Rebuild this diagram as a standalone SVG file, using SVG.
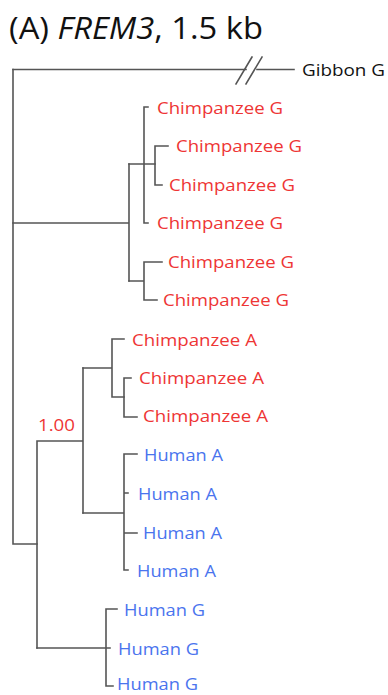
<svg xmlns="http://www.w3.org/2000/svg" width="388" height="695" viewBox="0 0 388 695">
<style>
.e{stroke:#555;stroke-width:1.6;fill:none;stroke-linecap:square}
.t{font-family:"Open Sans","Noto Sans",sans-serif;font-size:17px}
.r{fill:#ee3535}
.b{fill:#4a74ee}
.k{fill:#111}
.title{font-family:"Open Sans","Noto Sans",sans-serif;font-size:31px;fill:#111}
</style>
<rect width="388" height="695" fill="#fff"/>
<text class="title" x="9" y="39" textLength="254" lengthAdjust="spacingAndGlyphs">(A) <tspan font-style="italic">FREM3</tspan>, 1.5 kb</text>
<g id="connectors">
<path class="e" d="M13,69.5 H246 M257,69.5 H294"/>
<path class="e" d="M236,84 L252,57 M246,84 L262,57" stroke-linecap="butt"/>
<path class="e" d="M13,69.5 V544 H37"/>
<path class="e" d="M13,223 H129 M129,164 V281"/>
<path class="e" d="M144,107 V223 M144,107 H148 M144,223 H148 M129,164 H155"/>
<path class="e" d="M155,146 V185 M155,146 H168 M155,185 H162"/>
<path class="e" d="M129,281 H144 M144,262 V300 M144,262 H162 M144,300 H157"/>
<path class="e" d="M37,441 V648 M37,441 H83 M83,368 V513"/>
<path class="e" d="M83,368 H112 M112,339 V397 M112,339 H124 M112,397 H124"/>
<path class="e" d="M124,378 V417 M124,378 H131 M124,417 H137"/>
<path class="e" d="M83,513 H124 M124,454 V570 M124,454 H137 M124,493 H128 M124,533 H137 M124,570 H128"/>
<path class="e" d="M37,648 H106 M106,609 V686 M106,609 H117 M106,648 H110 M106,686 H113"/>
</g>
<g id="gibbon-g"><text class="t k" x="302" y="76" textLength="83" lengthAdjust="spacingAndGlyphs">Gibbon G</text></g>
<g id="chimp-g1"><text class="t r" x="157" y="114" textLength="126" lengthAdjust="spacingAndGlyphs">Chimpanzee G</text></g>
<g id="chimp-g2"><text class="t r" x="176" y="152" textLength="126" lengthAdjust="spacingAndGlyphs">Chimpanzee G</text></g>
<g id="chimp-g3"><text class="t r" x="169" y="191" textLength="126" lengthAdjust="spacingAndGlyphs">Chimpanzee G</text></g>
<g id="chimp-g4"><text class="t r" x="157" y="229" textLength="126" lengthAdjust="spacingAndGlyphs">Chimpanzee G</text></g>
<g id="chimp-g5"><text class="t r" x="168" y="268" textLength="126" lengthAdjust="spacingAndGlyphs">Chimpanzee G</text></g>
<g id="chimp-g6"><text class="t r" x="163" y="306" textLength="126" lengthAdjust="spacingAndGlyphs">Chimpanzee G</text></g>
<g id="chimp-a1"><text class="t r" x="132" y="346" textLength="125" lengthAdjust="spacingAndGlyphs">Chimpanzee A</text></g>
<g id="chimp-a2"><text class="t r" x="139" y="384" textLength="125" lengthAdjust="spacingAndGlyphs">Chimpanzee A</text></g>
<g id="chimp-a3"><text class="t r" x="143" y="422" textLength="125" lengthAdjust="spacingAndGlyphs">Chimpanzee A</text></g>
<g id="support"><text class="t r" x="38" y="431" textLength="37" lengthAdjust="spacingAndGlyphs">1.00</text></g>
<g id="human-a1"><text class="t b" x="144" y="461" textLength="79" lengthAdjust="spacingAndGlyphs">Human A</text></g>
<g id="human-a2"><text class="t b" x="138" y="500" textLength="79" lengthAdjust="spacingAndGlyphs">Human A</text></g>
<g id="human-a3"><text class="t b" x="143" y="539" textLength="79" lengthAdjust="spacingAndGlyphs">Human A</text></g>
<g id="human-a4"><text class="t b" x="137" y="577" textLength="79" lengthAdjust="spacingAndGlyphs">Human A</text></g>
<g id="human-g1"><text class="t b" x="124" y="616" textLength="81" lengthAdjust="spacingAndGlyphs">Human G</text></g>
<g id="human-g2"><text class="t b" x="118" y="655" textLength="81" lengthAdjust="spacingAndGlyphs">Human G</text></g>
<g id="human-g3"><text class="t b" x="117" y="690" textLength="81" lengthAdjust="spacingAndGlyphs">Human G</text></g>
</svg>
